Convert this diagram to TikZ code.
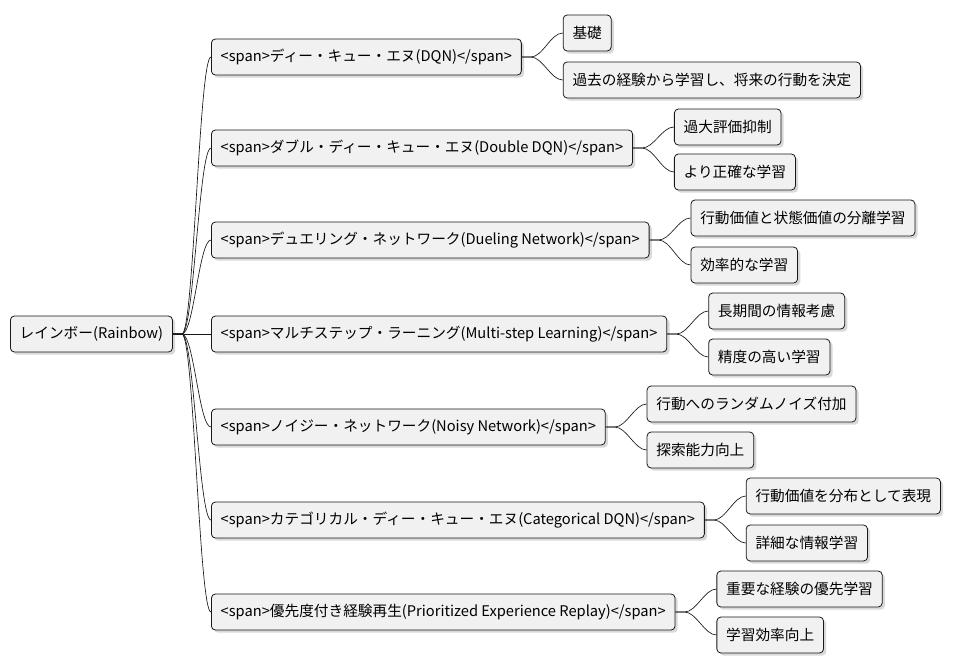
\documentclass[tikz,border=0pt]{standalone}
\usepackage{fontspec}
\setmainfont{Noto Sans CJK JP}
\usetikzlibrary{shadows}
\definecolor{boxfill}{HTML}{F1F1F1}
\definecolor{boxline}{HTML}{181818}
\tikzset{
  topic/.style={draw=boxline, fill=boxfill, rounded corners=3pt, line width=0.6pt,
    font=\fontsize{11pt}{13pt}\selectfont, inner xsep=7pt, minimum height=27pt, anchor=west,
    drop shadow={shadow xshift=2pt, shadow yshift=-2pt, fill=black!25, opacity=0.6}},
  branch/.style={draw=boxline, line width=0.5pt},
}
\newcommand{\branchto}[2]{\draw[branch] (#1.east) -- ++(9,0) .. controls +(12,0) and +(-12,0) .. (#2.west);}
\begin{document}
\begin{tikzpicture}[x=0.75pt, y=-0.75pt]
  \useasboundingbox (0,0) rectangle (956,669);

  % root
  \node[topic] (rainbow) at (10,334) {レインボー(Rainbow)};

  % first level
  \node[topic] (dqn) at (211,57) {<span>ディー・キュー・エヌ(DQN)</span>};
  \node[topic] (double) at (211,148) {<span>ダブル・ディー・キュー・エヌ(Double DQN)</span>};
  \node[topic] (dueling) at (211,240) {<span>デュエリング・ネットワーク(Dueling Network)</span>};
  \node[topic] (multistep) at (211,334) {<span>マルチステップ・ラーニング(Multi-step Learning)</span>};
  \node[topic] (noisy) at (211,427) {<span>ノイジー・ネットワーク(Noisy Network)</span>};
  \node[topic] (categorical) at (211,520) {<span>カテゴリカル・ディー・キュー・エヌ(Categorical DQN)</span>};
  \node[topic] (prioritized) at (211,612) {<span>優先度付き経験再生(Prioritized Experience Replay)</span>};

  % second level
  \node[topic] (dqnA) at ([xshift=41*0.75pt]dqn.east |- 0,33) {基礎};
  \node[topic] (dqnB) at ([xshift=41*0.75pt]dqn.east |- 0,80) {過去の経験から学習し、将来の行動を決定};
  \node[topic] (doubleA) at ([xshift=41*0.75pt]double.east |- 0,127) {過大評価抑制};
  \node[topic] (doubleB) at ([xshift=41*0.75pt]double.east |- 0,172) {より正確な学習};
  \node[topic] (duelingA) at ([xshift=41*0.75pt]dueling.east |- 0,218) {行動価値と状態価値の分離学習};
  \node[topic] (duelingB) at ([xshift=41*0.75pt]dueling.east |- 0,265) {効率的な学習};
  \node[topic] (multistepA) at ([xshift=41*0.75pt]multistep.east |- 0,311) {長期間の情報考慮};
  \node[topic] (multistepB) at ([xshift=41*0.75pt]multistep.east |- 0,357) {精度の高い学習};
  \node[topic] (noisyA) at ([xshift=41*0.75pt]noisy.east |- 0,404) {行動へのランダムノイズ付加};
  \node[topic] (noisyB) at ([xshift=41*0.75pt]noisy.east |- 0,450) {探索能力向上};
  \node[topic] (categoricalA) at ([xshift=41*0.75pt]categorical.east |- 0,496) {行動価値を分布として表現};
  \node[topic] (categoricalB) at ([xshift=41*0.75pt]categorical.east |- 0,543) {詳細な情報学習};
  \node[topic] (prioritizedA) at ([xshift=41*0.75pt]prioritized.east |- 0,589) {重要な経験の優先学習};
  \node[topic] (prioritizedB) at ([xshift=41*0.75pt]prioritized.east |- 0,635) {学習効率向上};

  % branches
  \foreach \c in {dqn,double,dueling,multistep,noisy,categorical,prioritized}{
    \branchto{rainbow}{\c}
    \branchto{\c}{\c A}
    \branchto{\c}{\c B}
  }
\end{tikzpicture}
\end{document}
